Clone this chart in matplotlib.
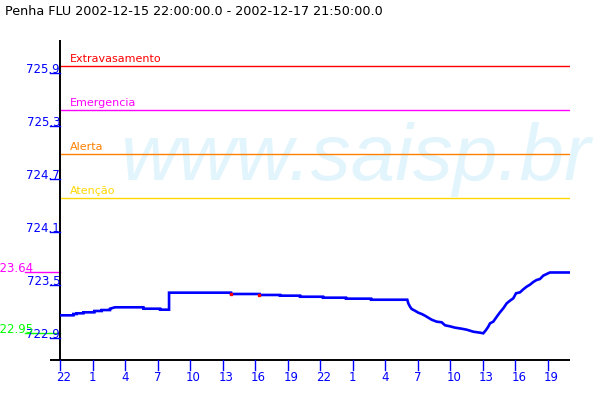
import matplotlib
matplotlib.use("Agg")
import matplotlib.pyplot as plt
import matplotlib.transforms as mtransforms

# ---- data ----
title = "Penha FLU 2002-12-15 22:00:00.0 - 2002-12-17 21:50:00.0"

# hours after 2002-12-15 22:00
hours = [0.0, 1.23, 1.23, 1.54, 1.54, 2.15, 2.15, 3.16, 3.16, 3.84, 3.84, 4.61, 4.61, 5.07,
         7.69, 7.69, 9.23, 9.23, 10.06, 10.06,
         15.77, 15.77, 18.39, 18.39, 20.30, 20.30, 22.14, 22.14, 24.26, 24.26,
         26.38, 26.38, 28.69, 28.69, 32.04,
         32.13, 32.29, 32.44, 32.75, 33.05, 33.37, 33.67, 33.98, 34.29, 34.75,
         35.21, 35.52, 35.98, 36.44, 37.06, 37.52, 38.13, 38.75, 39.05,
         39.30, 39.51, 39.67, 39.97, 40.29, 40.59, 40.90, 41.21, 41.51, 41.82,
         42.07, 42.44, 42.74, 43.05, 43.36, 43.66, 43.97, 44.28, 44.58, 44.90,
         45.20, 47.05]
levels = [723.154, 723.154, 723.169, 723.169, 723.177, 723.177, 723.188, 723.188, 723.203,
          723.203, 723.214, 723.214, 723.229, 723.245,
          723.245, 723.229, 723.229, 723.218, 723.218, 723.411,
          723.411, 723.396, 723.396, 723.385, 723.385, 723.377, 723.377, 723.365,
          723.365, 723.354, 723.354, 723.343, 723.343, 723.331, 723.331,
          723.290, 723.252, 723.226, 723.206, 723.184, 723.169, 723.150, 723.127,
          723.104, 723.082, 723.075, 723.041, 723.029, 723.014, 723.002, 722.991,
          722.968, 722.957, 722.950,
          722.987, 723.025, 723.063, 723.082, 723.138, 723.188, 723.234, 723.290,
          723.320, 723.347, 723.404, 723.415, 723.449, 723.479, 723.502, 723.532,
          723.555, 723.566, 723.604, 723.623, 723.640, 723.640]

flag_hours = [15.77, 18.39]
flag_levels = [723.392, 723.381]

threshold_names = ["Extravasamento", "Emergencia", "Alerta", "Atenção"]
threshold_values = [725.98, 725.48, 724.98, 724.49]
threshold_colors = ["#FF0000", "#FF00FF", "#FF8000", "#FFD700"]

ytick_values = [722.9, 723.5, 724.1, 724.7, 725.3, 725.9]
ytick_labels = ["722.9", "723.5", "724.1", "724.7", "725.3", "725.9"]

xtick_hours = [0, 3, 6, 9, 12, 15, 18, 21, 24, 27, 30, 33, 36, 39, 42, 45]
xtick_labels = ["22", "1", "4", "7", "10", "13", "16", "19",
                "22", "1", "4", "7", "10", "13", "16", "19"]

max_level = 723.64
min_level = 722.95

# ---- figure ----
fig = plt.figure(figsize=(6, 4), dpi=100)
ax = fig.add_axes([60 / 600, 40 / 400, 510 / 600, 320 / 400])
ax.set_facecolor("none")
ax.set_xlim(0, 47.05)
ax.set_ylim(722.647, 726.278)
for s in ax.spines.values():
    s.set_visible(False)
ax.set_xticks([])
ax.set_yticks([])

font = "DejaVu Sans"

# watermark
ax.text(120 / 600, 1 - 180 / 400, "www.saisp.br", transform=fig.transFigure,
        fontsize=57.5, style="italic", family="Liberation Sans", color="#E3F5FC",
        ha="left", va="baseline", zorder=0, clip_on=False)

# title
fig.text(5 / 600, 1 - 15 / 400, title, fontsize=9.2, family=font,
         color="black", ha="left", va="baseline")

bt_y = mtransforms.blended_transform_factory(ax.transAxes, ax.transData)
bt_x = mtransforms.blended_transform_factory(ax.transData, ax.transAxes)

# axes lines
ax.plot([-10 / 510, 1], [0, 0], transform=ax.transAxes, color="black", lw=1.4,
        clip_on=False, zorder=3, solid_capstyle="butt")
ax.plot([0, 0], [0, 1], transform=ax.transAxes, color="black", lw=1.4,
        clip_on=False, zorder=3, solid_capstyle="butt")

# y ticks
for v, lab in zip(ytick_values, ytick_labels):
    ax.plot([-10 / 510, 0], [v, v], transform=bt_y, color="#0000FF", lw=1,
            clip_on=False, zorder=3)
    tr = mtransforms.offset_copy(bt_y, fig=fig, x=0, y=0, units="dots")
    ax.text(0, v, lab, transform=tr, ha="right", va="baseline", fontsize=8.5,
            family=font, color="#0000FF", clip_on=False)

# x ticks
for h, lab in zip(xtick_hours, xtick_labels):
    ax.plot([h, h], [0, -10 / 320], transform=bt_x, color="#0000FF", lw=1,
            clip_on=False, zorder=4)
    tr = mtransforms.offset_copy(bt_x, fig=fig, x=-4, y=-21, units="dots")
    ax.text(h, 0, lab, transform=tr, ha="left", va="baseline", fontsize=8.5,
            family=font, color="#0000FF", clip_on=False)

# thresholds
for name, v, c in zip(threshold_names, threshold_values, threshold_colors):
    ax.axhline(v, color=c, lw=1, zorder=2)
    tr = mtransforms.offset_copy(bt_y, fig=fig, x=10, y=4, units="dots")
    ax.text(0, v, name, transform=tr, ha="left", va="baseline", fontsize=8,
            family=font, color=c)

# max / min markers on the left
for v, c in [(max_level, "#FF00FF"), (min_level, "#00FF00")]:
    ax.plot([-35 / 510, 0], [v, v], transform=bt_y, color=c, lw=1,
            clip_on=False, zorder=2)
    tr = mtransforms.offset_copy(bt_y, fig=fig, x=-27, y=0, units="dots")
    ax.text(0, v, f"{v:.2f}", transform=tr, ha="right", va="baseline",
            fontsize=8.5, family=font, color=c, clip_on=False)

# data
ax.plot(hours, levels, color="#0000FF", lw=1.9, zorder=5, solid_joinstyle="miter")
ax.plot(flag_hours, flag_levels, color="#FF0000", lw=0, marker="s", ms=1.5,
        zorder=6)

fig.savefig("out.png", dpi=100)
